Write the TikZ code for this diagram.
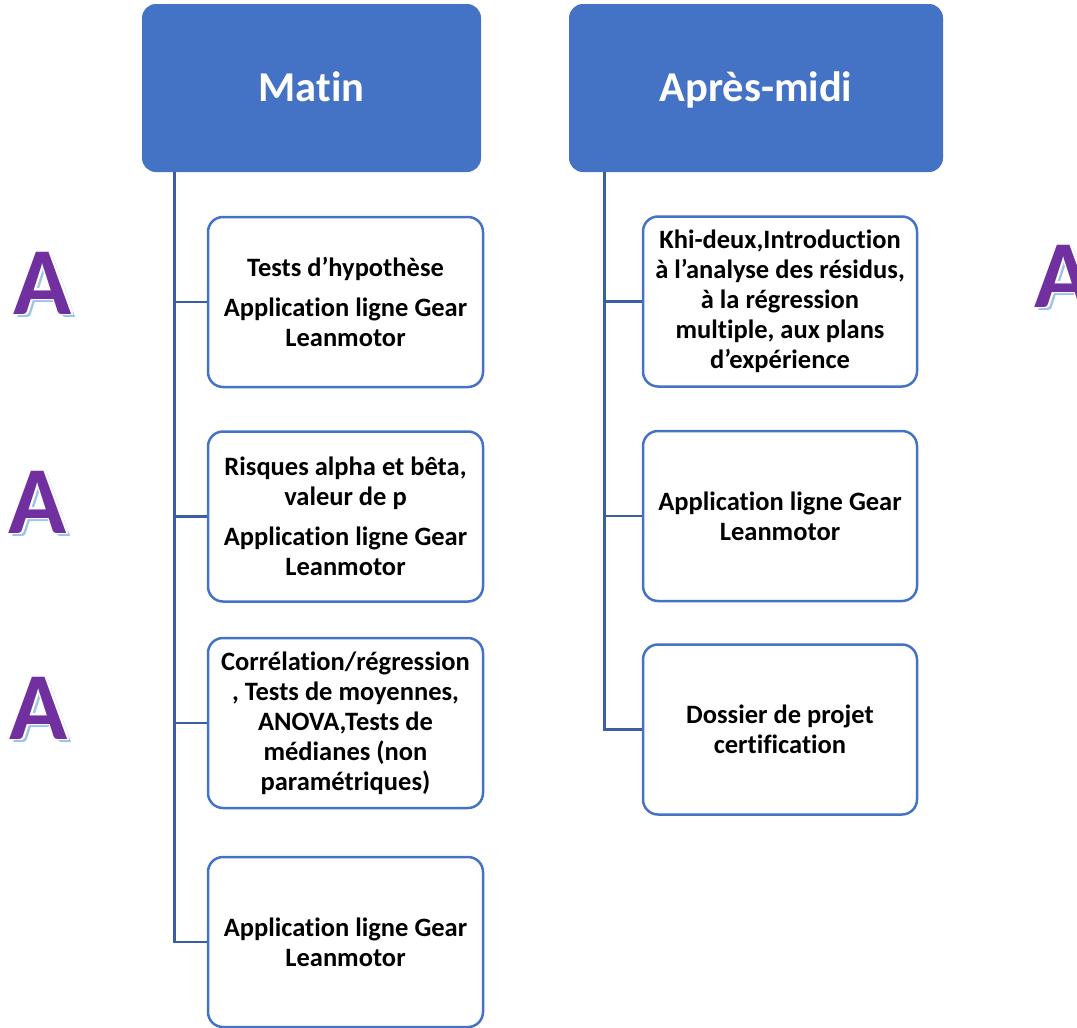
\documentclass[tikz,border=0pt]{standalone}
\usepackage{fontspec}
\setmainfont{Carlito}[Ligatures={NoCommon}]
\definecolor{hdr}{HTML}{4472C4}
\definecolor{lnk}{HTML}{3B5DA3}
\definecolor{apurple}{HTML}{7030A0}
\definecolor{ashadow}{HTML}{9DC3E6}
\begin{document}
\begin{tikzpicture}[x=1pt,y=-1pt,
  hdrbox/.style={draw=none, fill=hdr, rounded corners=14pt, minimum height=168pt,
    text=white, font=\fontsize{42.5}{50}\selectfont\bfseries, inner sep=0pt,
    text height=26pt, text depth=0pt},
  itembox/.style={draw=hdr, line width=2.5pt, fill=white, rounded corners=15pt,
    minimum width=275pt, minimum height=170pt, align=center, inner sep=0pt,
    font=\fontsize{26.5}{30}\selectfont\bfseries},
  link/.style={draw=lnk, line width=2.8pt},
  bigletter/.style={inner sep=0pt, font=\fontsize{96}{100}\selectfont\bfseries},
]
\useasboundingbox (0,0) rectangle (1077,1028);

% headers
\node[hdrbox, minimum width=339pt] (matin) at (311.5,88) {Matin};
\node[hdrbox, minimum width=374pt] (apm) at (756,88) {Après-midi};

% left column
\node[itembox] (b1) at (345.5,302) {Tests d’hypothèse\\[10pt]Application ligne Gear\\Leanmotor};
\node[itembox] (b2) at (345.5,516.5) {Risques alpha et bêta,\\valeur de p\\[10pt]Application ligne Gear\\Leanmotor};
\node[itembox] (b3) at (345.5,723) {Corrélation/régression\\, Tests de moyennes,\\ANOVA,Tests de\\médianes (non\\paramétriques)};
\node[itembox] (b4) at (345.5,942) {Application ligne Gear\\Leanmotor};

% right column
\node[itembox, minimum width=274pt] (r1) at (780,301.5) {Khi-deux,Introduction\\à l’analyse des résidus,\\à la régression\\multiple, aux plans\\d’expérience};
\node[itembox, minimum width=274pt] (r2) at (780,516) {Application ligne Gear\\Leanmotor};
\node[itembox, minimum width=274pt] (r3) at (780,729.5) {Dossier de projet\\certification};

% connectors
\coordinate (mL) at ([xshift=33pt]matin.south west);
\coordinate (aL) at ([xshift=36pt]apm.south west);
\draw[link] (mL) |- (b4.west);
\foreach \n in {b1,b2,b3} \draw[link] (mL |- \n.west) -- (\n.west);
\draw[link] (aL) |- (r3.west);
\foreach \n in {r1,r2} \draw[link] (aL |- \n.west) -- (\n.west);

% decorative letters
\foreach \nm/\px/\py in {a1/43/283, a2/38/502, a3/39/708, a4/1064/276} {
  \node[bigletter, text=ashadow] (\nm s) at (\px+3.5,\py+3.5) {A};
  \foreach \dx/\dy [count=\k] in {1.6/0,-1.6/0,0/1.6,0/-1.6,1.2/1.2,-1.2/1.2,1.2/-1.2,-1.2/-1.2}
    \node[bigletter, text=white] (\nm w\k) at (\px+\dx,\py+\dy) {A};
  \node[bigletter, text=apurple] (\nm) at (\px,\py) {A};
}
\end{tikzpicture}
\end{document}
